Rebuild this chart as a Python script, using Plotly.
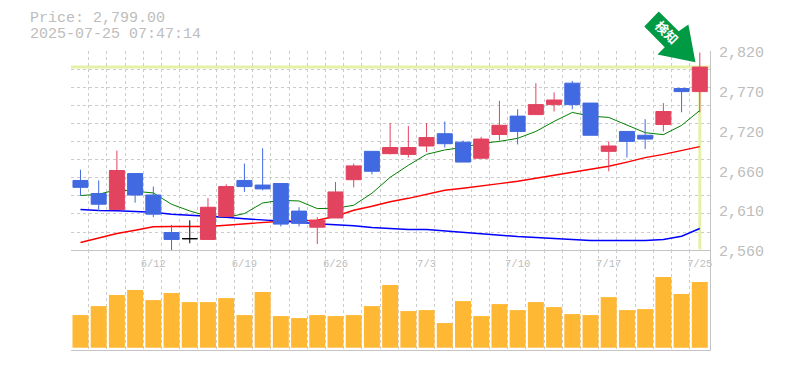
import plotly.graph_objects as go

PRICE = 2799
TITLE1 = "Price: 2,799.00"
TITLE2 = "2025-07-25 07:47:14"
BADGE = "検知"

tick_idx = [4, 9, 14, 19, 24, 29, 34]
tick_labels = ["6/12", "6/19", "6/26", "7/3", "7/10", "7/17", "7/25"]
price_ticks = [2820, 2768, 2716, 2664, 2612, 2560]
price_labels = ["2,820", "2,770", "2,720", "2,660", "2,610", "2,560"]

open_ = [2651, 2634, 2613, 2660, 2632, 2583, 2575, 2574, 2604, 2651, 2645, 2647, 2611, 2590, 2602, 2652, 2689, 2686, 2685, 2696, 2712, 2701, 2680, 2711, 2735, 2737, 2750, 2778, 2752, 2689, 2715, 2710, 2724, 2771, 2767]
high = [2665, 2651, 2690, 2660, 2643, 2593, 2599, 2628, 2646, 2673, 2693, 2647, 2616, 2603, 2649, 2673, 2689, 2726, 2722, 2726, 2728, 2703, 2708, 2755, 2744, 2778, 2766, 2781, 2752, 2702, 2715, 2731, 2752, 2771, 2818]
low = [2631, 2611, 2613, 2622, 2603, 2560, 2569, 2574, 2604, 2636, 2638, 2591, 2591, 2568, 2602, 2642, 2659, 2685, 2681, 2688, 2694, 2675, 2680, 2703, 2698, 2737, 2741, 2744, 2710, 2663, 2681, 2692, 2715, 2740, 2740]
close = [2642, 2620, 2664, 2632, 2607, 2574, 2575, 2616, 2643, 2643, 2640, 2594, 2595, 2599, 2636, 2670, 2663, 2694, 2694, 2707, 2699, 2675, 2705, 2723, 2715, 2750, 2756, 2750, 2710, 2696, 2702, 2705, 2741, 2767, 2799]

ma_green = [2631.3, 2633, 2639.1, 2636.5, 2634.7, 2619.9, 2611.2, 2604.3, 2602.6, 2607.8, 2621.6, 2625.1, 2624.2, 2614.3, 2614.7, 2618.6, 2634.3, 2655.1, 2670.8, 2685.1, 2690.8, 2694.2, 2699.4, 2702, 2706, 2715, 2728.1, 2739.8, 2735, 2733.3, 2723.8, 2713.4, 2710.8, 2722.9, 2742.4]
ma_red = [2570, 2575.6, 2581.7, 2586, 2590.6, 2590.9, 2590.9, 2590.9, 2592.6, 2594.5, 2596.1, 2597.8, 2598.2, 2599.1, 2604.3, 2612.1, 2617.3, 2623.2, 2627.7, 2633, 2638.2, 2640.8, 2643.4, 2646.9, 2649.9, 2653.8, 2658.1, 2662, 2665.9, 2669.5, 2675, 2680.8, 2685.1, 2690.3, 2695.1]
ma_blue = [2613, 2611.7, 2611.5, 2610.8, 2609.5, 2606.9, 2605.6, 2604.9, 2603, 2601, 2599.7, 2598.4, 2596.5, 2594.5, 2593.5, 2591.9, 2589.6, 2588.3, 2587, 2587, 2585.1, 2583, 2581.7, 2579.5, 2577.8, 2576.5, 2575.2, 2573.9, 2572.6, 2572.6, 2572.6, 2572.6, 2573.9, 2578.2, 2588.3]
volume = [32700, 41700, 52700, 57700, 47700, 54700, 45700, 45700, 49700, 32700, 55700, 31700, 29700, 32700, 31700, 32700, 41700, 62700, 36700, 37700, 24700, 46700, 31700, 43700, 37700, 45700, 40700, 33700, 32700, 50700, 37700, 38700, 70700, 53700, 65700]

C_UP, C_DOWN, C_DOJI = "#E2435F", "#4169E1", "#000000"
C_VOL, C_GRID, C_AXIS, C_TEXT = "#FFB833", "#CCCCCC", "#C4C4C4", "#BDBDBD"
C_LEVEL, C_BADGE = "#E4F1A6", "#009944"
MONO = "Liberation Mono"

n = len(close)
xs = list(range(n))
W, H = 785, 370
PAGE = 8  # the page's own margin
L, R, T, B = 70.5, 710.3, 50.5, 350
px = lambda x: (x - L) / (R - L)
py = lambda y: (B - y) / (B - T)
XR = [-0.52, 34.56]
YR = [2560, 2820]
split = (B - 250) / (B - T)
solid = [i for i in xs if close[i] != open_[i]]
doji = [i for i in xs if close[i] == open_[i]]
grid_x = [i - 0.55 for i in range(n)]
grid_y = [2560 + (2820 - 2560) * k / 11 for k in range(12)]

fig = go.Figure()
for vals, col, w in [(ma_green, "green", 1), (ma_red, "red", 1.4), (ma_blue, "blue", 1.4)]:
    fig.add_trace(go.Scatter(x=xs, y=vals, mode="lines", line=dict(color=col, width=w), xaxis="x", yaxis="y", hoverinfo="skip"))

fig.add_trace(go.Candlestick(
    x=[xs[i] for i in solid], open=[open_[i] for i in solid], high=[high[i] for i in solid],
    low=[low[i] for i in solid], close=[close[i] for i in solid], xaxis="x", yaxis="y3", whiskerwidth=0,
    increasing=dict(line=dict(color=C_UP, width=1), fillcolor=C_UP),
    decreasing=dict(line=dict(color=C_DOWN, width=1), fillcolor=C_DOWN)))
fig.add_trace(go.Candlestick(
    x=[xs[i] for i in doji], open=[open_[i] for i in doji], high=[high[i] for i in doji],
    low=[low[i] for i in doji], close=[close[i] for i in doji], xaxis="x", yaxis="y3", whiskerwidth=0,
    increasing=dict(line=dict(color=C_DOJI, width=1), fillcolor=C_DOJI),
    decreasing=dict(line=dict(color=C_DOJI, width=1), fillcolor=C_DOJI)))
fig.add_trace(go.Bar(x=xs, y=volume, marker=dict(color=C_VOL, line=dict(width=0)), width=16 / 18.24, xaxis="x2", yaxis="y2"))

gridx = dict(tickmode="array", tickvals=grid_x, showgrid=True, gridcolor=C_GRID, griddash="3px,3px", gridwidth=1, ticklen=0)
fig.update_layout(
    width=W - PAGE, height=H - PAGE, autosize=False, showlegend=False, paper_bgcolor="white", plot_bgcolor="white",
    margin=dict(l=L - PAGE, r=W - R, t=T - PAGE, b=H - B), boxmode="overlay", boxgap=0.177, boxgroupgap=0,
    font=dict(family=MONO, color=C_TEXT, size=15),
    xaxis=dict(domain=[0, 1], range=XR, anchor="y", tickmode="array", tickvals=tick_idx, ticktext=tick_labels,
               showgrid=False, minor=gridx, zeroline=False, showline=True, linecolor=C_AXIS, linewidth=1,
               ticks="", ticklabelstandoff=3, tickfont=dict(family=MONO, size=10.5, color=C_TEXT), rangeslider=dict(visible=False)),
    xaxis2=dict(domain=[0, 1], range=XR, anchor="y2", matches="x", showticklabels=False, showgrid=False, minor=gridx,
                zeroline=False, showline=True, linecolor=C_AXIS, linewidth=1, ticks="", tickmode="array", tickvals=tick_idx),
    yaxis=dict(domain=[split, 1], range=YR, anchor="x", side="right", tickmode="array", tickvals=price_ticks,
               showticklabels=False, showgrid=False, zeroline=False, showline=True, linecolor=C_AXIS, linewidth=1,
               minor=dict(tickmode="array", tickvals=grid_y, showgrid=True, gridcolor=C_GRID, griddash="3px,3px", gridwidth=1, ticklen=0)),
    yaxis3=dict(domain=[split, 1], range=YR, overlaying="y", anchor="x", visible=False),
    yaxis2=dict(domain=[0, split], range=[-2300, 97700], anchor="x2", side="right", showticklabels=False, showgrid=False,
                zeroline=False, showline=True, linecolor=C_AXIS, linewidth=1),
)

shapes = [
    dict(type="line", xref="x", yref="y", x0=XR[0], x1=XR[1], y0=PRICE, y1=PRICE, layer="below",
         line=dict(color=C_LEVEL, width=3)),
    dict(type="line", xref="x", yref="y", x0=xs[-1], x1=xs[-1], y0=PRICE, y1=2561, layer="below",
         line=dict(color=C_LEVEL, width=3)),
]
arrow = [(659, 11), (679, 30.7), (688.7, 24), (695.7, 61.7), (657.7, 54), (665, 46.7), (644.5, 26)]
path = "M" + " L".join(f"{px(a):.4f},{py(b):.4f}" for a, b in arrow) + " Z"
shapes.append(dict(type="path", xref="paper", yref="paper", path=path, fillcolor=C_BADGE, line=dict(width=0), layer="above"))
shapes.append(dict(type="rect", xref="paper", yref="paper", x0=px(656), x1=px(676), y0=py(43), y1=py(23),
                   fillcolor="rgba(0,0,0,0)", line=dict(width=0), layer="above",
                   label=dict(text=BADGE, textangle=45, textposition="middle center",
                              font=dict(family="Noto Sans CJK JP", size=13, color="white", weight="bold"))))
fig.update_layout(shapes=shapes)

ann = [
    dict(xref="paper", yref="paper", x=px(27.5), y=py(17.5), text=TITLE1, xanchor="left", yanchor="middle", showarrow=False),
    dict(xref="paper", yref="paper", x=px(27.5), y=py(33.5), text=TITLE2, xanchor="left", yanchor="middle", showarrow=False),
]
for v, t in zip(price_ticks, price_labels):
    ann.append(dict(xref="paper", yref="y", x=px(717), y=v, yshift=-2.5, text=t, xanchor="left", yanchor="middle", showarrow=False))
fig.update_layout(annotations=ann)

fig.write_html("out.html")
